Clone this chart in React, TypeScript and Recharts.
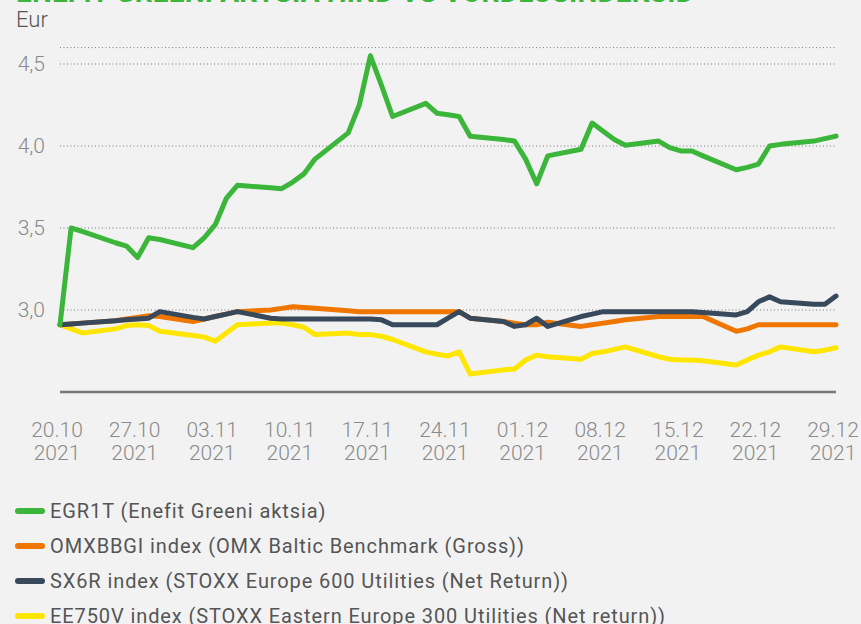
import { LineChart, Line, XAxis, YAxis, CartesianGrid } from "recharts";

// trading days, counted from 20.10.2021
const days = [0, 1, 2, 5, 6, 7, 8, 9, 12, 13, 14, 15, 16, 19, 20, 21, 22, 23, 26, 27, 28, 29, 30, 33, 34, 35, 36, 37, 40, 41, 42, 43, 44, 47, 48, 49, 50, 51, 54, 55, 56, 57, 58, 61, 62, 63, 64, 65, 68, 69, 70];

const egr1t = [2.91, 3.5, 3.48, 3.41, 3.39, 3.32, 3.44, 3.43, 3.38, 3.44, 3.52, 3.68, 3.76, 3.745, 3.74, 3.78, 3.83, 3.92, 4.08, 4.25, 4.55, 4.37, 4.18, 4.26, 4.2, 4.19, 4.18, 4.06, 4.04, 4.03, 3.92, 3.77, 3.94, 3.98, 4.14, 4.09, 4.04, 4.005, 4.03, 3.99, 3.97, 3.97, 3.94, 3.855, 3.87, 3.89, 4.0, 4.01, 4.03, 4.045, 4.06];
const omxbbgi = [2.91, 2.915, 2.92, 2.935, 2.945, 2.955, 2.965, 2.96, 2.93, 2.945, 2.96, 2.975, 2.99, 3.0, 3.01, 3.02, 3.015, 3.01, 2.995, 2.99, 2.99, 2.99, 2.99, 2.99, 2.99, 2.99, 2.99, 2.95, 2.93, 2.92, 2.91, 2.91, 2.925, 2.9, 2.91, 2.92, 2.93, 2.94, 2.96, 2.96, 2.96, 2.96, 2.96, 2.87, 2.885, 2.91, 2.91, 2.91, 2.91, 2.91, 2.91];
const sx6r = [2.91, 2.915, 2.92, 2.935, 2.94, 2.945, 2.95, 2.99, 2.955, 2.945, 2.96, 2.975, 2.99, 2.95, 2.945, 2.945, 2.945, 2.945, 2.945, 2.945, 2.945, 2.94, 2.91, 2.91, 2.91, 2.95, 2.99, 2.95, 2.93, 2.9, 2.91, 2.95, 2.9, 2.96, 2.975, 2.99, 2.99, 2.99, 2.99, 2.99, 2.99, 2.99, 2.985, 2.97, 2.99, 3.05, 3.08, 3.05, 3.035, 3.035, 3.085];
const ee750v = [2.91, 2.885, 2.86, 2.885, 2.905, 2.91, 2.905, 2.87, 2.845, 2.835, 2.81, 2.86, 2.91, 2.92, 2.92, 2.91, 2.895, 2.85, 2.86, 2.85, 2.85, 2.84, 2.82, 2.745, 2.73, 2.72, 2.745, 2.61, 2.635, 2.64, 2.695, 2.725, 2.715, 2.7, 2.735, 2.745, 2.76, 2.775, 2.715, 2.7, 2.695, 2.695, 2.69, 2.665, 2.695, 2.725, 2.745, 2.775, 2.745, 2.755, 2.77];

const xTicks = [0, 7, 14, 21, 28, 35, 42, 49, 56, 63, 70];
const xTickLabels = ["20.10", "27.10", "03.11", "10.11", "17.11", "24.11", "01.12", "08.12", "15.12", "22.12", "29.12"];
const yTicks = [3.0, 3.5, 4.0, 4.5];

const series = [
  { key: "egr1t", name: "EGR1T (Enefit Greeni aktsia)", color: "#3bb53a" },
  { key: "omxbbgi", name: "OMXBBGI index (OMX Baltic Benchmark (Gross))", color: "#ee7601" },
  { key: "sx6r", name: "SX6R index (STOXX Europe 600 Utilities (Net Return))", color: "#37495a" },
  { key: "ee750v", name: "EE750V index (STOXX Eastern Europe 300 Utilities (Net return))", color: "#ffe600" },
];

const data = days.map((d, i) => ({
  d,
  egr1t: egr1t[i],
  omxbbgi: omxbbgi[i],
  sx6r: sx6r[i],
  ee750v: ee750v[i],
}));

const FONT = "Roboto, 'DejaVu Sans', sans-serif";

const DateTick = (props: any) => {
  const { x, y, payload } = props;
  const idx = xTicks.indexOf(payload.value);
  return (
    <g transform={`translate(${x},${y})`}>
      <text textAnchor="middle" fill="#8a8a8a" fontSize={21} fontFamily={FONT} fontWeight={300}>
        <tspan x={-3} dy={43}>{xTickLabels[idx]}</tspan>
        <tspan x={-3} dy={23}>2021</tspan>
      </text>
    </g>
  );
};

export default function App() {
  // draw order: yellow and orange below, then dark, green on top
  const drawOrder = ["ee750v", "omxbbgi", "sx6r", "egr1t"];
  return (
    <div style={{ position: "fixed", left: 0, top: 0, width: 861, height: 624, background: "#f2f2f2", overflow: "hidden", fontFamily: FONT }}>
      <div style={{ position: "absolute", left: 16, top: -21, fontSize: 28, fontWeight: 700, color: "#3bb53a", whiteSpace: "nowrap", lineHeight: 1, letterSpacing: 0.2 }}>
        ENEFIT GREENI AKTSIA HIND VS VÕRDLUSINDEKSID
      </div>
      <div style={{ position: "absolute", left: 16, top: 9, fontSize: 22, color: "#555", lineHeight: 1, fontWeight: 300 }}>Eur</div>
      <div style={{ position: "absolute", left: 0, top: 0 }}>
        <LineChart width={861} height={480} data={data} margin={{ top: 47.6, right: 25, bottom: 8, left: 0 }}>
          <CartesianGrid vertical={false} stroke="#777" strokeDasharray="1 2.5" />
          <XAxis
            dataKey="d"
            type="number"
            domain={[0, 70]}
            ticks={xTicks}
            interval={0}
            tick={<DateTick />}
            tickLine={false}
            tickSize={0}
            axisLine={{ stroke: "#777", strokeWidth: 2.5 }}
            height={80}
          />
          <YAxis
            type="number"
            domain={[2.5, 4.6]}
            ticks={yTicks}
            width={60}
            axisLine={false}
            tickLine={false}
            tickSize={0}
            tickMargin={15}
            tickFormatter={(v: number) => v.toFixed(1).replace(".", ",")}
            tick={{ fill: "#8a8a8a", fontSize: 21, fontFamily: FONT, fontWeight: 300 }}
          />
          {drawOrder.map((k) => {
            const s = series.find((x) => x.key === k)!;
            return (
              <Line
                key={k}
                type="linear"
                dataKey={k}
                name={s.name}
                stroke={s.color}
                strokeWidth={5}
                strokeLinejoin="round"
                strokeLinecap="round"
                dot={false}
                isAnimationActive={false}
              />
            );
          })}
        </LineChart>
      </div>
      <div style={{ position: "absolute", left: 15, top: 493 }}>
        {series.map((s) => (
          <div key={s.key} style={{ display: "flex", alignItems: "center", height: 35 }}>
            <span style={{ display: "inline-block", width: 30, height: 6, borderRadius: 3, background: s.color, marginRight: 5 }} />
            <span style={{ fontSize: 20, color: "#555", whiteSpace: "nowrap", letterSpacing: 0.9 }}>{s.name}</span>
          </div>
        ))}
      </div>
    </div>
  );
}
